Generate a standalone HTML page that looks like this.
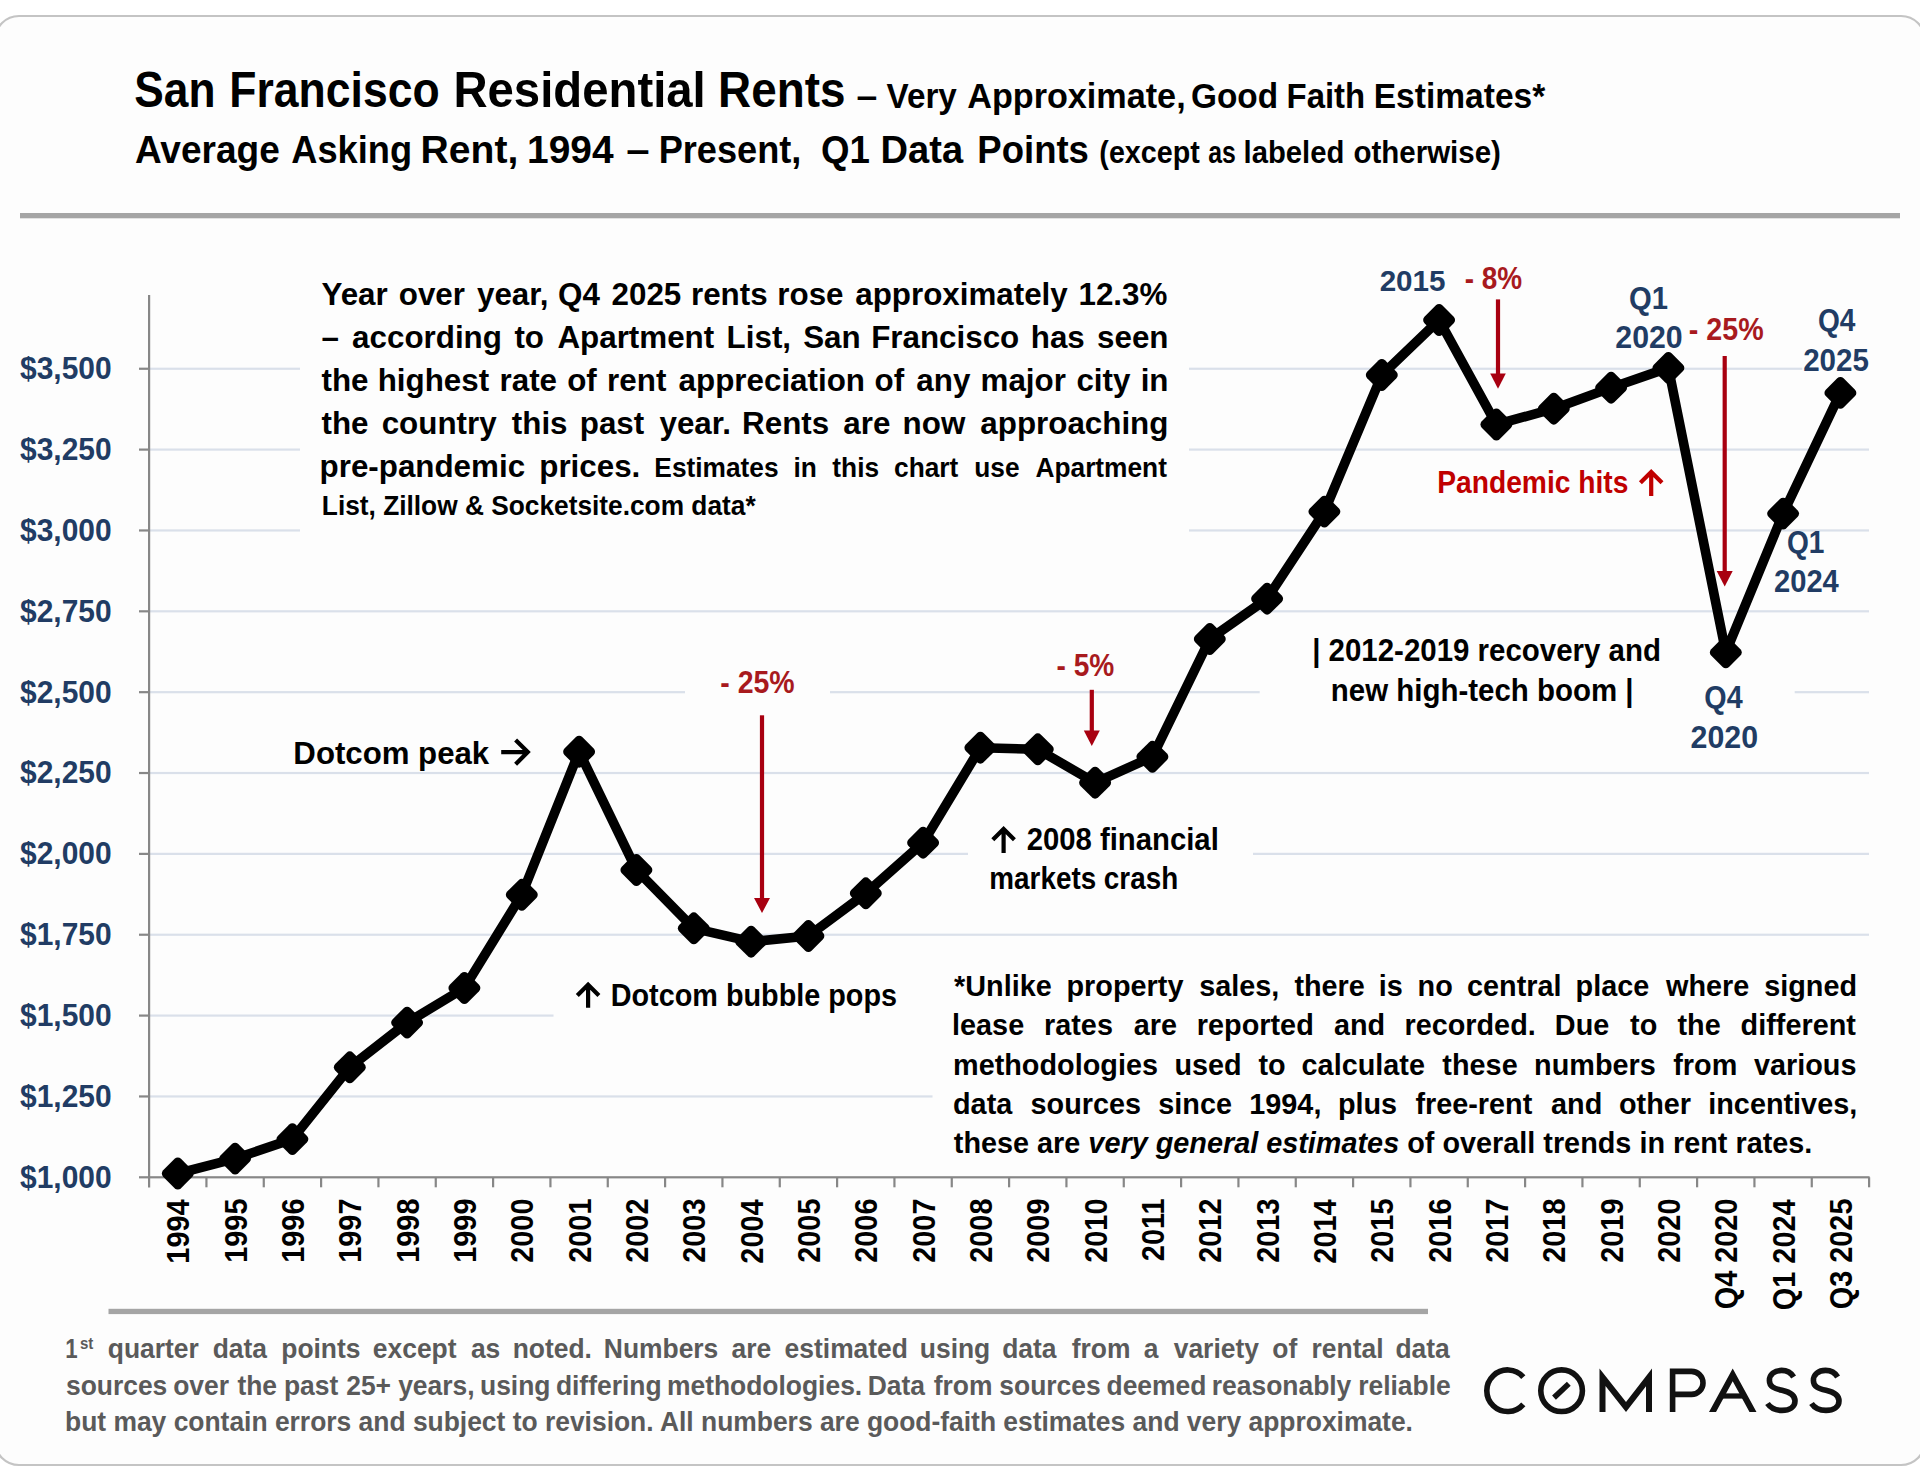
<!DOCTYPE html>
<html><head><meta charset="utf-8"><title>San Francisco Residential Rents</title>
<style>
html,body{margin:0;padding:0;background:#fff;}
body{width:1920px;height:1483px;overflow:hidden;}
svg{display:block;}
text{font-family:"Liberation Sans",sans-serif;}
</style></head>
<body>
<svg width="1920" height="1483" viewBox="0 0 1920 1483">
<rect x="0" y="0" width="1920" height="1483" fill="#ffffff"/>
<rect x="-5" y="16" width="1930" height="1449" rx="24" ry="24" fill="#fdfdfd" stroke="#c4c4c4" stroke-width="2.2"/>
<rect x="20" y="213" width="1880" height="5.3" fill="#a5a5a5"/>
<rect x="108.5" y="1308.8" width="1319.5" height="5.3" fill="#a5a5a5"/>
<rect x="150.0" y="1095.35" width="782.5" height="2.2" fill="#dae0ea"/>
<rect x="150.0" y="1014.49" width="403.5" height="2.2" fill="#dae0ea"/>
<rect x="150.0" y="933.63" width="1719.0" height="2.2" fill="#dae0ea"/>
<rect x="150.0" y="852.78" width="818.0" height="2.2" fill="#dae0ea"/>
<rect x="1253.0" y="852.78" width="616.0" height="2.2" fill="#dae0ea"/>
<rect x="150.0" y="771.92" width="1719.0" height="2.2" fill="#dae0ea"/>
<rect x="150.0" y="691.07" width="535.0" height="2.2" fill="#dae0ea"/>
<rect x="830.0" y="691.07" width="429.7" height="2.2" fill="#dae0ea"/>
<rect x="1794.7" y="691.07" width="74.3" height="2.2" fill="#dae0ea"/>
<rect x="150.0" y="610.21" width="1719.0" height="2.2" fill="#dae0ea"/>
<rect x="150.0" y="529.36" width="150.0" height="2.2" fill="#dae0ea"/>
<rect x="1189.0" y="529.36" width="680.0" height="2.2" fill="#dae0ea"/>
<rect x="150.0" y="448.50" width="150.0" height="2.2" fill="#dae0ea"/>
<rect x="1189.0" y="448.50" width="680.0" height="2.2" fill="#dae0ea"/>
<rect x="150.0" y="367.65" width="150.0" height="2.2" fill="#dae0ea"/>
<rect x="1189.0" y="367.65" width="613.3" height="2.2" fill="#dae0ea"/>
<rect x="148.00" y="295" width="2.2" height="892.5" fill="#878787"/>
<rect x="139" y="1176.20" width="1730.6" height="2.2" fill="#878787"/>
<rect x="139" y="1095.35" width="10" height="2.2" fill="#878787"/>
<rect x="139" y="1014.49" width="10" height="2.2" fill="#878787"/>
<rect x="139" y="933.63" width="10" height="2.2" fill="#878787"/>
<rect x="139" y="852.78" width="10" height="2.2" fill="#878787"/>
<rect x="139" y="771.92" width="10" height="2.2" fill="#878787"/>
<rect x="139" y="691.07" width="10" height="2.2" fill="#878787"/>
<rect x="139" y="610.21" width="10" height="2.2" fill="#878787"/>
<rect x="139" y="529.36" width="10" height="2.2" fill="#878787"/>
<rect x="139" y="448.50" width="10" height="2.2" fill="#878787"/>
<rect x="139" y="367.65" width="10" height="2.2" fill="#878787"/>
<rect x="205.33" y="1177.3" width="2.2" height="10" fill="#878787"/>
<rect x="262.67" y="1177.3" width="2.2" height="10" fill="#878787"/>
<rect x="320.00" y="1177.3" width="2.2" height="10" fill="#878787"/>
<rect x="377.33" y="1177.3" width="2.2" height="10" fill="#878787"/>
<rect x="434.67" y="1177.3" width="2.2" height="10" fill="#878787"/>
<rect x="492.00" y="1177.3" width="2.2" height="10" fill="#878787"/>
<rect x="549.33" y="1177.3" width="2.2" height="10" fill="#878787"/>
<rect x="606.67" y="1177.3" width="2.2" height="10" fill="#878787"/>
<rect x="664.00" y="1177.3" width="2.2" height="10" fill="#878787"/>
<rect x="721.33" y="1177.3" width="2.2" height="10" fill="#878787"/>
<rect x="778.67" y="1177.3" width="2.2" height="10" fill="#878787"/>
<rect x="836.00" y="1177.3" width="2.2" height="10" fill="#878787"/>
<rect x="893.33" y="1177.3" width="2.2" height="10" fill="#878787"/>
<rect x="950.67" y="1177.3" width="2.2" height="10" fill="#878787"/>
<rect x="1008.00" y="1177.3" width="2.2" height="10" fill="#878787"/>
<rect x="1065.33" y="1177.3" width="2.2" height="10" fill="#878787"/>
<rect x="1122.67" y="1177.3" width="2.2" height="10" fill="#878787"/>
<rect x="1180.00" y="1177.3" width="2.2" height="10" fill="#878787"/>
<rect x="1237.33" y="1177.3" width="2.2" height="10" fill="#878787"/>
<rect x="1294.67" y="1177.3" width="2.2" height="10" fill="#878787"/>
<rect x="1352.00" y="1177.3" width="2.2" height="10" fill="#878787"/>
<rect x="1409.33" y="1177.3" width="2.2" height="10" fill="#878787"/>
<rect x="1466.67" y="1177.3" width="2.2" height="10" fill="#878787"/>
<rect x="1524.00" y="1177.3" width="2.2" height="10" fill="#878787"/>
<rect x="1581.33" y="1177.3" width="2.2" height="10" fill="#878787"/>
<rect x="1638.67" y="1177.3" width="2.2" height="10" fill="#878787"/>
<rect x="1696.00" y="1177.3" width="2.2" height="10" fill="#878787"/>
<rect x="1753.33" y="1177.3" width="2.2" height="10" fill="#878787"/>
<rect x="1810.67" y="1177.3" width="2.2" height="10" fill="#878787"/>
<rect x="1868.00" y="1177.3" width="2.2" height="10" fill="#878787"/>
<rect x="759.90" y="715.3" width="4.2" height="183.70000000000005" fill="#a80010"/>
<path d="M754.00,898 L770.00,898 L762.00,913 Z" fill="#a80010"/>
<rect x="1089.70" y="689.8" width="4.2" height="41.80000000000007" fill="#a80010"/>
<path d="M1083.80,730.6 L1099.80,730.6 L1091.80,746 Z" fill="#a80010"/>
<rect x="1495.90" y="299.4" width="4.2" height="75.10000000000002" fill="#a80010"/>
<path d="M1490.20,373.5 L1505.80,373.5 L1498.00,388.75 Z" fill="#a80010"/>
<rect x="1722.60" y="356" width="4.2" height="216" fill="#a80010"/>
<path d="M1716.70,571 L1732.70,571 L1724.70,586.4 Z" fill="#a80010"/>
<path d="M501.2,752.1 L526.3,752.1 M515.5999999999999,739.9 L527.8,752.1 L515.5999999999999,764.3000000000001" fill="none" stroke="#000" stroke-width="4.2" stroke-linejoin="miter" stroke-linecap="butt"/>
<path d="M588.1,1007.8 L588.1,986.3 M577.3000000000001,995.5999999999999 L588.1,984.8 L598.9,995.5999999999999" fill="none" stroke="#000" stroke-width="4.2" stroke-linejoin="miter" stroke-linecap="butt"/>
<path d="M1003.6,853 L1003.6,830.5 M992.8000000000001,839.8 L1003.6,829 L1014.4,839.8" fill="none" stroke="#000" stroke-width="4.2" stroke-linejoin="miter" stroke-linecap="butt"/>
<path d="M1651.2,496 L1651.2,473.5 M1640.4,482.8 L1651.2,472 L1662.0,482.8" fill="none" stroke="#c00000" stroke-width="4.2" stroke-linejoin="miter" stroke-linecap="butt"/>
<path d="M177.8,1173.5 L235.1,1158.6 L292.4,1139.1 L349.8,1067.3 L407.1,1022.6 L464.4,988.0 L521.8,894.8 L579.1,751.7 L636.4,870.0 L693.8,928.3 L751.1,941.7 L808.4,936.0 L865.8,893.3 L923.1,842.7 L980.4,747.7 L1037.8,749.3 L1095.1,782.7 L1152.4,756.8 L1209.8,639.0 L1267.1,598.7 L1324.4,511.6 L1381.8,375.0 L1439.1,320.0 L1496.4,424.5 L1553.8,408.7 L1611.1,387.7 L1668.4,367.9 L1725.8,652.4 L1783.1,513.6 L1840.4,392.9" fill="none" stroke="#000" stroke-width="9.6" stroke-linejoin="round"/>
<rect x="-12.60" y="-12.60" width="25.2" height="25.2" rx="4.5" transform="translate(177.8 1173.5) rotate(45)" fill="#000"/>
<rect x="-12.60" y="-12.60" width="25.2" height="25.2" rx="4.5" transform="translate(235.1 1158.6) rotate(45)" fill="#000"/>
<rect x="-12.60" y="-12.60" width="25.2" height="25.2" rx="4.5" transform="translate(292.4 1139.1) rotate(45)" fill="#000"/>
<rect x="-12.60" y="-12.60" width="25.2" height="25.2" rx="4.5" transform="translate(349.8 1067.3) rotate(45)" fill="#000"/>
<rect x="-12.60" y="-12.60" width="25.2" height="25.2" rx="4.5" transform="translate(407.1 1022.6) rotate(45)" fill="#000"/>
<rect x="-12.60" y="-12.60" width="25.2" height="25.2" rx="4.5" transform="translate(464.4 988.0) rotate(45)" fill="#000"/>
<rect x="-12.60" y="-12.60" width="25.2" height="25.2" rx="4.5" transform="translate(521.8 894.8) rotate(45)" fill="#000"/>
<rect x="-12.60" y="-12.60" width="25.2" height="25.2" rx="4.5" transform="translate(579.1 751.7) rotate(45)" fill="#000"/>
<rect x="-12.60" y="-12.60" width="25.2" height="25.2" rx="4.5" transform="translate(636.4 870.0) rotate(45)" fill="#000"/>
<rect x="-12.60" y="-12.60" width="25.2" height="25.2" rx="4.5" transform="translate(693.8 928.3) rotate(45)" fill="#000"/>
<rect x="-12.60" y="-12.60" width="25.2" height="25.2" rx="4.5" transform="translate(751.1 941.7) rotate(45)" fill="#000"/>
<rect x="-12.60" y="-12.60" width="25.2" height="25.2" rx="4.5" transform="translate(808.4 936.0) rotate(45)" fill="#000"/>
<rect x="-12.60" y="-12.60" width="25.2" height="25.2" rx="4.5" transform="translate(865.8 893.3) rotate(45)" fill="#000"/>
<rect x="-12.60" y="-12.60" width="25.2" height="25.2" rx="4.5" transform="translate(923.1 842.7) rotate(45)" fill="#000"/>
<rect x="-12.60" y="-12.60" width="25.2" height="25.2" rx="4.5" transform="translate(980.4 747.7) rotate(45)" fill="#000"/>
<rect x="-12.60" y="-12.60" width="25.2" height="25.2" rx="4.5" transform="translate(1037.8 749.3) rotate(45)" fill="#000"/>
<rect x="-12.60" y="-12.60" width="25.2" height="25.2" rx="4.5" transform="translate(1095.1 782.7) rotate(45)" fill="#000"/>
<rect x="-12.60" y="-12.60" width="25.2" height="25.2" rx="4.5" transform="translate(1152.4 756.8) rotate(45)" fill="#000"/>
<rect x="-12.60" y="-12.60" width="25.2" height="25.2" rx="4.5" transform="translate(1209.8 639.0) rotate(45)" fill="#000"/>
<rect x="-12.60" y="-12.60" width="25.2" height="25.2" rx="4.5" transform="translate(1267.1 598.7) rotate(45)" fill="#000"/>
<rect x="-12.60" y="-12.60" width="25.2" height="25.2" rx="4.5" transform="translate(1324.4 511.6) rotate(45)" fill="#000"/>
<rect x="-12.60" y="-12.60" width="25.2" height="25.2" rx="4.5" transform="translate(1381.8 375.0) rotate(45)" fill="#000"/>
<rect x="-12.60" y="-12.60" width="25.2" height="25.2" rx="4.5" transform="translate(1439.1 320.0) rotate(45)" fill="#000"/>
<rect x="-12.60" y="-12.60" width="25.2" height="25.2" rx="4.5" transform="translate(1496.4 424.5) rotate(45)" fill="#000"/>
<rect x="-12.60" y="-12.60" width="25.2" height="25.2" rx="4.5" transform="translate(1553.8 408.7) rotate(45)" fill="#000"/>
<rect x="-12.60" y="-12.60" width="25.2" height="25.2" rx="4.5" transform="translate(1611.1 387.7) rotate(45)" fill="#000"/>
<rect x="-12.60" y="-12.60" width="25.2" height="25.2" rx="4.5" transform="translate(1668.4 367.9) rotate(45)" fill="#000"/>
<rect x="-12.60" y="-12.60" width="25.2" height="25.2" rx="4.5" transform="translate(1725.8 652.4) rotate(45)" fill="#000"/>
<rect x="-12.60" y="-12.60" width="25.2" height="25.2" rx="4.5" transform="translate(1783.1 513.6) rotate(45)" fill="#000"/>
<rect x="-12.60" y="-12.60" width="25.2" height="25.2" rx="4.5" transform="translate(1840.4 392.9) rotate(45)" fill="#000"/>
<path d="M1523.30,1377.05 A20.8,20.8 0 1 0 1523.30,1404.35" fill="none" stroke="#111" stroke-width="5.6"/>
<circle cx="1561.6" cy="1390.7" r="20.8" fill="none" stroke="#111" stroke-width="5.6"/>
<path d="M1554,1397.6 L1568.8,1383.8" fill="none" stroke="#111" stroke-width="5.6"/>
<path d="M1599.5,1412 L1599.5,1368.4 L1626,1402 L1652,1368.4 L1652,1412 L1646,1412 L1646,1386.2 L1626,1412 L1605.5,1386 L1605.5,1412 Z" fill="#111"/>
<path d="M1672.6,1412 L1672.6,1371.4 L1691.5,1371.4 A11.5,11.5 0 0 1 1691.5,1394.4 L1672.6,1394.4" fill="none" stroke="#111" stroke-width="5.6"/>
<path d="M1709,1412 L1732.7,1368.4 L1756.5,1412 L1749.5,1412 L1732.7,1381.3 L1716,1412 Z" fill="#111"/>
<rect x="1720" y="1393.4" width="25.4" height="5.2" fill="#111"/>
<path d="M1793.6,1377 C1791,1372.5 1786,1370.4 1781.5,1370.4 C1774.5,1370.4 1769.4,1374.5 1769.4,1380.5 C1769.4,1386.5 1774,1388.5 1782,1390.3 C1790.5,1392.2 1795,1395 1795,1401 C1795,1407 1789.5,1410.4 1782,1410.4 C1775.5,1410.4 1770.5,1408 1767.5,1403.5" fill="none" stroke="#111" stroke-width="5.6"/>
<path d="M1837.6,1377 C1835,1372.5 1830,1370.4 1825.5,1370.4 C1818.5,1370.4 1813.4,1374.5 1813.4,1380.5 C1813.4,1386.5 1818,1388.5 1826,1390.3 C1834.5,1392.2 1839,1395 1839,1401 C1839,1407 1833.5,1410.4 1826,1410.4 C1819.5,1410.4 1814.5,1408 1811.5,1403.5" fill="none" stroke="#111" stroke-width="5.6"/>
<text transform="matrix(0.8859 0 0 1 134.31 107.30)" fill="#000" xml:space="preserve"><tspan font-size="50.00" font-weight="bold" font-style="normal">San</tspan></text>
<text transform="matrix(0.8905 0 0 1 229.33 107.30)" fill="#000" xml:space="preserve"><tspan font-size="50.00" font-weight="bold" font-style="normal">Francisco</tspan></text>
<text transform="matrix(0.9463 0 0 1 453.41 107.30)" fill="#000" xml:space="preserve"><tspan font-size="50.00" font-weight="bold" font-style="normal">Residential</tspan></text>
<text transform="matrix(0.9168 0 0 1 718.05 107.30)" fill="#000" xml:space="preserve"><tspan font-size="50.00" font-weight="bold" font-style="normal">Rents</tspan></text>
<text transform="matrix(1.0417 0 0 1 856.46 107.50)" fill="#000" xml:space="preserve"><tspan font-size="35.87" font-weight="bold" font-style="normal">–</tspan></text>
<text transform="matrix(0.9270 0 0 1 886.60 107.50)" fill="#000" xml:space="preserve"><tspan font-size="35.87" font-weight="bold" font-style="normal">Very</tspan></text>
<text transform="matrix(0.9532 0 0 1 967.20 107.50)" fill="#000" xml:space="preserve"><tspan font-size="35.87" font-weight="bold" font-style="normal">Approximate,</tspan></text>
<text transform="matrix(0.9300 0 0 1 1190.97 107.50)" fill="#000" xml:space="preserve"><tspan font-size="35.87" font-weight="bold" font-style="normal">Good</tspan></text>
<text transform="matrix(0.9174 0 0 1 1286.57 107.50)" fill="#000" xml:space="preserve"><tspan font-size="35.87" font-weight="bold" font-style="normal">Faith</tspan></text>
<text transform="matrix(0.9354 0 0 1 1373.73 107.50)" fill="#000" xml:space="preserve"><tspan font-size="35.87" font-weight="bold" font-style="normal">Estimates*</tspan></text>
<text transform="matrix(0.9351 0 0 1 135.00 162.70)" fill="#000" xml:space="preserve"><tspan font-size="39.60" font-weight="bold" font-style="normal">Average</tspan></text>
<text transform="matrix(0.9150 0 0 1 291.25 162.70)" fill="#000" xml:space="preserve"><tspan font-size="39.60" font-weight="bold" font-style="normal">Asking</tspan></text>
<text transform="matrix(0.9874 0 0 1 420.53 162.70)" fill="#000" xml:space="preserve"><tspan font-size="39.60" font-weight="bold" font-style="normal">Rent,</tspan></text>
<text transform="matrix(0.9833 0 0 1 527.03 162.70)" fill="#000" xml:space="preserve"><tspan font-size="39.60" font-weight="bold" font-style="normal">1994</tspan></text>
<text transform="matrix(1.0600 0 0 1 626.14 162.70)" fill="#000" xml:space="preserve"><tspan font-size="39.60" font-weight="bold" font-style="normal">–</tspan></text>
<text transform="matrix(0.9133 0 0 1 658.67 162.70)" fill="#000" xml:space="preserve"><tspan font-size="39.60" font-weight="bold" font-style="normal">Present,</tspan></text>
<text transform="matrix(0.9255 0 0 1 821.07 162.70)" fill="#000" xml:space="preserve"><tspan font-size="39.60" font-weight="bold" font-style="normal">Q1</tspan></text>
<text transform="matrix(0.9614 0 0 1 880.58 162.70)" fill="#000" xml:space="preserve"><tspan font-size="39.60" font-weight="bold" font-style="normal">Data</tspan></text>
<text transform="matrix(0.9226 0 0 1 977.35 162.70)" fill="#000" xml:space="preserve"><tspan font-size="39.60" font-weight="bold" font-style="normal">Points</tspan></text>
<text transform="matrix(0.9347 0 0 1 1099.37 162.70)" fill="#000" xml:space="preserve"><tspan font-size="30.70" font-weight="bold" font-style="normal">(except</tspan></text>
<text transform="matrix(0.8075 0 0 1 1208.20 162.70)" fill="#000" xml:space="preserve"><tspan font-size="30.70" font-weight="bold" font-style="normal">as</tspan></text>
<text transform="matrix(0.9530 0 0 1 1243.59 162.70)" fill="#000" xml:space="preserve"><tspan font-size="30.70" font-weight="bold" font-style="normal">labeled</tspan></text>
<text transform="matrix(0.9607 0 0 1 1353.44 162.70)" fill="#000" xml:space="preserve"><tspan font-size="30.70" font-weight="bold" font-style="normal">otherwise)</tspan></text>
<text transform="matrix(0.9801 0 0 1 20.00 379.15)" fill="#213c64" xml:space="preserve"><tspan font-size="30.56" font-weight="bold" font-style="normal">$3,500</tspan></text>
<text transform="matrix(0.9801 0 0 1 20.00 1187.70)" fill="#213c64" font-size="30.56" font-weight="bold">$1,000</text>
<text transform="matrix(0.9801 0 0 1 20.00 1106.85)" fill="#213c64" font-size="30.56" font-weight="bold">$1,250</text>
<text transform="matrix(0.9801 0 0 1 20.00 1025.99)" fill="#213c64" font-size="30.56" font-weight="bold">$1,500</text>
<text transform="matrix(0.9801 0 0 1 20.00 945.13)" fill="#213c64" font-size="30.56" font-weight="bold">$1,750</text>
<text transform="matrix(0.9801 0 0 1 20.00 864.28)" fill="#213c64" font-size="30.56" font-weight="bold">$2,000</text>
<text transform="matrix(0.9801 0 0 1 20.00 783.42)" fill="#213c64" font-size="30.56" font-weight="bold">$2,250</text>
<text transform="matrix(0.9801 0 0 1 20.00 702.57)" fill="#213c64" font-size="30.56" font-weight="bold">$2,500</text>
<text transform="matrix(0.9801 0 0 1 20.00 621.72)" fill="#213c64" font-size="30.56" font-weight="bold">$2,750</text>
<text transform="matrix(0.9801 0 0 1 20.00 540.86)" fill="#213c64" font-size="30.56" font-weight="bold">$3,000</text>
<text transform="matrix(0.9801 0 0 1 20.00 460.00)" fill="#213c64" font-size="30.56" font-weight="bold">$3,250</text>
<text transform="translate(189.37 1263.67) rotate(-90) scale(0.9186 1)" font-size="31.42" font-weight="bold" fill="#000">1994</text>
<text transform="translate(246.70 1262.75) rotate(-90) scale(0.9186 1)" font-size="31.42" font-weight="bold" fill="#000">1995</text>
<text transform="translate(304.03 1262.75) rotate(-90) scale(0.9186 1)" font-size="31.42" font-weight="bold" fill="#000">1996</text>
<text transform="translate(361.37 1262.75) rotate(-90) scale(0.9186 1)" font-size="31.42" font-weight="bold" fill="#000">1997</text>
<text transform="translate(418.70 1262.75) rotate(-90) scale(0.9186 1)" font-size="31.42" font-weight="bold" fill="#000">1998</text>
<text transform="translate(476.03 1262.75) rotate(-90) scale(0.9186 1)" font-size="31.42" font-weight="bold" fill="#000">1999</text>
<text transform="translate(533.37 1262.75) rotate(-90) scale(0.9186 1)" font-size="31.42" font-weight="bold" fill="#000">2000</text>
<text transform="translate(590.70 1262.75) rotate(-90) scale(0.9186 1)" font-size="31.42" font-weight="bold" fill="#000">2001</text>
<text transform="translate(648.03 1262.75) rotate(-90) scale(0.9186 1)" font-size="31.42" font-weight="bold" fill="#000">2002</text>
<text transform="translate(705.37 1262.75) rotate(-90) scale(0.9186 1)" font-size="31.42" font-weight="bold" fill="#000">2003</text>
<text transform="translate(762.70 1263.67) rotate(-90) scale(0.9186 1)" font-size="31.42" font-weight="bold" fill="#000">2004</text>
<text transform="translate(820.03 1262.75) rotate(-90) scale(0.9186 1)" font-size="31.42" font-weight="bold" fill="#000">2005</text>
<text transform="translate(877.37 1262.75) rotate(-90) scale(0.9186 1)" font-size="31.42" font-weight="bold" fill="#000">2006</text>
<text transform="translate(934.70 1262.75) rotate(-90) scale(0.9186 1)" font-size="31.42" font-weight="bold" fill="#000">2007</text>
<text transform="translate(992.03 1262.75) rotate(-90) scale(0.9186 1)" font-size="31.42" font-weight="bold" fill="#000">2008</text>
<text transform="translate(1049.37 1262.75) rotate(-90) scale(0.9186 1)" font-size="31.42" font-weight="bold" fill="#000">2009</text>
<text transform="translate(1106.70 1262.75) rotate(-90) scale(0.9186 1)" font-size="31.42" font-weight="bold" fill="#000">2010</text>
<text transform="translate(1164.03 1261.16) rotate(-90) scale(0.9186 1)" font-size="31.42" font-weight="bold" fill="#000">2011</text>
<text transform="translate(1221.37 1262.75) rotate(-90) scale(0.9186 1)" font-size="31.42" font-weight="bold" fill="#000">2012</text>
<text transform="translate(1278.70 1262.75) rotate(-90) scale(0.9186 1)" font-size="31.42" font-weight="bold" fill="#000">2013</text>
<text transform="translate(1336.03 1263.67) rotate(-90) scale(0.9186 1)" font-size="31.42" font-weight="bold" fill="#000">2014</text>
<text transform="translate(1393.37 1262.75) rotate(-90) scale(0.9186 1)" font-size="31.42" font-weight="bold" fill="#000">2015</text>
<text transform="translate(1450.70 1262.75) rotate(-90) scale(0.9186 1)" font-size="31.42" font-weight="bold" fill="#000">2016</text>
<text transform="translate(1508.03 1262.75) rotate(-90) scale(0.9186 1)" font-size="31.42" font-weight="bold" fill="#000">2017</text>
<text transform="translate(1565.37 1262.75) rotate(-90) scale(0.9186 1)" font-size="31.42" font-weight="bold" fill="#000">2018</text>
<text transform="translate(1622.70 1262.75) rotate(-90) scale(0.9186 1)" font-size="31.42" font-weight="bold" fill="#000">2019</text>
<text transform="translate(1680.03 1262.75) rotate(-90) scale(0.9186 1)" font-size="31.42" font-weight="bold" fill="#000">2020</text>
<text transform="translate(1737.37 1309.25) rotate(-90) scale(0.9186 1)" font-size="31.42" font-weight="bold" fill="#000">Q4 2020</text>
<text transform="translate(1794.70 1310.17) rotate(-90) scale(0.9186 1)" font-size="31.42" font-weight="bold" fill="#000">Q1 2024</text>
<text transform="translate(1852.03 1309.25) rotate(-90) scale(0.9186 1)" font-size="31.42" font-weight="bold" fill="#000">Q3 2025</text>
<text transform="matrix(0.9741 0 0 1 1379.63 291.30)" fill="#213c64" xml:space="preserve"><tspan font-size="30.42" font-weight="bold" font-style="normal">2015</tspan></text>
<text transform="matrix(0.9480 0 0 1 1628.95 308.90)" fill="#213c64" xml:space="preserve"><tspan font-size="30.85" font-weight="bold" font-style="normal">Q1</tspan></text>
<text transform="matrix(0.9914 0 0 1 1615.31 348.00)" fill="#213c64" xml:space="preserve"><tspan font-size="30.56" font-weight="bold" font-style="normal">2020</tspan></text>
<text transform="matrix(0.9105 0 0 1 1817.89 331.20)" fill="#213c64" xml:space="preserve"><tspan font-size="30.85" font-weight="bold" font-style="normal">Q4</tspan></text>
<text transform="matrix(0.9580 0 0 1 1803.14 370.80)" fill="#213c64" xml:space="preserve"><tspan font-size="30.85" font-weight="bold" font-style="normal">2025</tspan></text>
<text transform="matrix(0.9105 0 0 1 1786.99 553.10)" fill="#213c64" xml:space="preserve"><tspan font-size="30.85" font-weight="bold" font-style="normal">Q1</tspan></text>
<text transform="matrix(0.9542 0 0 1 1773.95 591.90)" fill="#213c64" xml:space="preserve"><tspan font-size="30.56" font-weight="bold" font-style="normal">2024</tspan></text>
<text transform="matrix(0.9305 0 0 1 1704.37 708.40)" fill="#213c64" xml:space="preserve"><tspan font-size="30.85" font-weight="bold" font-style="normal">Q4</tspan></text>
<text transform="matrix(0.9929 0 0 1 1690.61 748.10)" fill="#213c64" xml:space="preserve"><tspan font-size="30.56" font-weight="bold" font-style="normal">2020</tspan></text>
<text transform="matrix(0.9108 0 0 1 1464.69 289.45)" fill="#a81a1e" xml:space="preserve"><tspan font-size="30.70" font-weight="bold" font-style="normal">- 8%</tspan></text>
<text transform="matrix(0.9331 0 0 1 1688.77 340.00)" fill="#a81a1e" xml:space="preserve"><tspan font-size="30.70" font-weight="bold" font-style="normal">- 25%</tspan></text>
<text transform="matrix(0.9274 0 0 1 720.32 693.20)" fill="#a81a1e" xml:space="preserve"><tspan font-size="30.70" font-weight="bold" font-style="normal">- 25%</tspan></text>
<text transform="matrix(0.9157 0 0 1 1056.48 675.50)" fill="#a81a1e" xml:space="preserve"><tspan font-size="30.70" font-weight="bold" font-style="normal">- 5%</tspan></text>
<text transform="matrix(0.8897 0 0 1 1437.22 493.00)" fill="#c00000" xml:space="preserve"><tspan font-size="31.71" font-weight="bold" font-style="normal">Pandemic hits</tspan></text>
<text transform="matrix(0.9707 0 0 1 293.36 764.30)" fill="#000" xml:space="preserve"><tspan font-size="32.14" font-weight="bold" font-style="normal">Dotcom peak</tspan></text>
<text transform="matrix(0.9131 0 0 1 610.67 1005.70)" fill="#000" xml:space="preserve"><tspan font-size="31.56" font-weight="bold" font-style="normal">Dotcom bubble pops</tspan></text>
<text transform="matrix(0.9287 0 0 1 1026.67 850.10)" fill="#000" xml:space="preserve"><tspan font-size="31.56" font-weight="bold" font-style="normal">2008 financial</tspan></text>
<text transform="matrix(0.8828 0 0 1 989.33 889.45)" fill="#000" xml:space="preserve"><tspan font-size="31.56" font-weight="bold" font-style="normal">markets crash</tspan></text>
<text transform="matrix(0.9337 0 0 1 1312.13 661.30)" fill="#000" xml:space="preserve"><tspan font-size="31.56" font-weight="bold" font-style="normal">| 2012-2019 recovery and</tspan></text>
<text transform="matrix(0.9331 0 0 1 1330.83 700.90)" fill="#000" xml:space="preserve"><tspan font-size="31.56" font-weight="bold" font-style="normal">new high-tech boom |</tspan></text>
<text transform="matrix(0.9805 0 0 1 321.82 514.90)" fill="#000" xml:space="preserve"><tspan font-size="26.83" font-weight="bold" font-style="normal">List, Zillow &amp; Socketsite.com data*</tspan></text>
<text transform="matrix(0.9805 0 0 1 321.50 305.10)" fill="#000" font-size="31.99" font-weight="bold" font-style="normal">Year</text>
<text transform="matrix(0.9805 0 0 1 398.76 305.10)" fill="#000" font-size="31.99" font-weight="bold" font-style="normal">over</text>
<text transform="matrix(0.9805 0 0 1 476.98 305.10)" fill="#000" font-size="31.99" font-weight="bold" font-style="normal">year,</text>
<text transform="matrix(0.9805 0 0 1 558.07 305.10)" fill="#000" font-size="31.99" font-weight="bold" font-style="normal">Q4</text>
<text transform="matrix(0.9805 0 0 1 611.54 305.10)" fill="#000" font-size="31.99" font-weight="bold" font-style="normal">2025</text>
<text transform="matrix(0.9805 0 0 1 690.98 305.10)" fill="#000" font-size="31.99" font-weight="bold" font-style="normal">rents</text>
<text transform="matrix(0.9805 0 0 1 777.34 305.10)" fill="#000" font-size="31.99" font-weight="bold" font-style="normal">rose</text>
<text transform="matrix(0.9805 0 0 1 855.22 305.10)" fill="#000" font-size="31.99" font-weight="bold" font-style="normal">approximately</text>
<text transform="matrix(0.9805 0 0 1 1078.51 305.10)" fill="#000" font-size="31.99" font-weight="bold" font-style="normal">12.3%</text>
<text transform="matrix(0.9805 0 0 1 321.50 348.00)" fill="#000" font-size="31.99" font-weight="bold" font-style="normal">–</text>
<text transform="matrix(0.9805 0 0 1 352.12 348.00)" fill="#000" font-size="31.99" font-weight="bold" font-style="normal">according</text>
<text transform="matrix(0.9805 0 0 1 514.43 348.00)" fill="#000" font-size="31.99" font-weight="bold" font-style="normal">to</text>
<text transform="matrix(0.9805 0 0 1 557.46 348.00)" fill="#000" font-size="31.99" font-weight="bold" font-style="normal">Apartment</text>
<text transform="matrix(0.9805 0 0 1 726.61 348.00)" fill="#000" font-size="31.99" font-weight="bold" font-style="normal">List,</text>
<text transform="matrix(0.9805 0 0 1 803.18 348.00)" fill="#000" font-size="31.99" font-weight="bold" font-style="normal">San</text>
<text transform="matrix(0.9805 0 0 1 871.18 348.00)" fill="#000" font-size="31.99" font-weight="bold" font-style="normal">Francisco</text>
<text transform="matrix(0.9805 0 0 1 1030.79 348.00)" fill="#000" font-size="31.99" font-weight="bold" font-style="normal">has</text>
<text transform="matrix(0.9805 0 0 1 1097.03 348.00)" fill="#000" font-size="31.99" font-weight="bold" font-style="normal">seen</text>
<text transform="matrix(0.9805 0 0 1 321.50 391.30)" fill="#000" font-size="31.99" font-weight="bold" font-style="normal">the</text>
<text transform="matrix(0.9805 0 0 1 377.72 391.30)" fill="#000" font-size="31.99" font-weight="bold" font-style="normal">highest</text>
<text transform="matrix(0.9805 0 0 1 499.52 391.30)" fill="#000" font-size="31.99" font-weight="bold" font-style="normal">rate</text>
<text transform="matrix(0.9805 0 0 1 567.21 391.30)" fill="#000" font-size="31.99" font-weight="bold" font-style="normal">of</text>
<text transform="matrix(0.9805 0 0 1 607.11 391.30)" fill="#000" font-size="31.99" font-weight="bold" font-style="normal">rent</text>
<text transform="matrix(0.9805 0 0 1 678.61 391.30)" fill="#000" font-size="31.99" font-weight="bold" font-style="normal">appreciation</text>
<text transform="matrix(0.9805 0 0 1 874.49 391.30)" fill="#000" font-size="31.99" font-weight="bold" font-style="normal">of</text>
<text transform="matrix(0.9805 0 0 1 916.35 391.30)" fill="#000" font-size="31.99" font-weight="bold" font-style="normal">any</text>
<text transform="matrix(0.9805 0 0 1 980.55 391.30)" fill="#000" font-size="31.99" font-weight="bold" font-style="normal">major</text>
<text transform="matrix(0.9805 0 0 1 1076.44 391.30)" fill="#000" font-size="31.99" font-weight="bold" font-style="normal">city</text>
<text transform="matrix(0.9805 0 0 1 1140.64 391.30)" fill="#000" font-size="31.99" font-weight="bold" font-style="normal">in</text>
<text transform="matrix(0.9805 0 0 1 321.50 434.30)" fill="#000" font-size="31.99" font-weight="bold" font-style="normal">the</text>
<text transform="matrix(0.9805 0 0 1 381.69 434.30)" fill="#000" font-size="31.99" font-weight="bold" font-style="normal">country</text>
<text transform="matrix(0.9805 0 0 1 511.81 434.30)" fill="#000" font-size="31.99" font-weight="bold" font-style="normal">this</text>
<text transform="matrix(0.9805 0 0 1 579.74 434.30)" fill="#000" font-size="31.99" font-weight="bold" font-style="normal">past</text>
<text transform="matrix(0.9805 0 0 1 659.47 434.30)" fill="#000" font-size="31.99" font-weight="bold" font-style="normal">year.</text>
<text transform="matrix(0.9805 0 0 1 742.07 434.30)" fill="#000" font-size="31.99" font-weight="bold" font-style="normal">Rents</text>
<text transform="matrix(0.9805 0 0 1 843.34 434.30)" fill="#000" font-size="31.99" font-weight="bold" font-style="normal">are</text>
<text transform="matrix(0.9805 0 0 1 902.60 434.30)" fill="#000" font-size="31.99" font-weight="bold" font-style="normal">now</text>
<text transform="matrix(0.9805 0 0 1 980.33 434.30)" fill="#000" font-size="31.99" font-weight="bold" font-style="normal">approaching</text>
<text transform="matrix(0.9805 0 0 1 319.54 477.00)" fill="#000" font-size="31.99" font-weight="bold" font-style="normal">pre-pandemic</text>
<text transform="matrix(0.9805 0 0 1 539.26 477.00)" fill="#000" font-size="31.99" font-weight="bold" font-style="normal">prices.</text>
<text transform="matrix(0.9805 0 0 1 654.36 477.00)" fill="#000" font-size="26.83" font-weight="bold" font-style="normal">Estimates</text>
<text transform="matrix(0.9805 0 0 1 793.52 477.00)" fill="#000" font-size="26.83" font-weight="bold" font-style="normal">in</text>
<text transform="matrix(0.9805 0 0 1 832.36 477.00)" fill="#000" font-size="26.83" font-weight="bold" font-style="normal">this</text>
<text transform="matrix(0.9805 0 0 1 894.04 477.00)" fill="#000" font-size="26.83" font-weight="bold" font-style="normal">chart</text>
<text transform="matrix(0.9805 0 0 1 974.24 477.00)" fill="#000" font-size="26.83" font-weight="bold" font-style="normal">use</text>
<text transform="matrix(0.9805 0 0 1 1035.47 477.00)" fill="#000" font-size="26.83" font-weight="bold" font-style="normal">Apartment</text>
<text transform="matrix(0.9752 0 0 1 953.80 1153.20)" fill="#000" xml:space="preserve"><tspan font-size="29.56" font-weight="bold" font-style="normal">these are </tspan><tspan font-size="29.56" font-weight="bold" font-style="italic">very general estimates</tspan><tspan font-size="29.56" font-weight="bold" font-style="normal"> of overall trends in rent rates.</tspan></text>
<text transform="matrix(0.9752 0 0 1 954.00 995.70)" fill="#000" font-size="29.56" font-weight="bold" font-style="normal">*Unlike</text>
<text transform="matrix(0.9752 0 0 1 1066.52 995.70)" fill="#000" font-size="29.56" font-weight="bold" font-style="normal">property</text>
<text transform="matrix(0.9752 0 0 1 1199.21 995.70)" fill="#000" font-size="29.56" font-weight="bold" font-style="normal">sales,</text>
<text transform="matrix(0.9752 0 0 1 1294.38 995.70)" fill="#000" font-size="29.56" font-weight="bold" font-style="normal">there</text>
<text transform="matrix(0.9752 0 0 1 1378.70 995.70)" fill="#000" font-size="29.56" font-weight="bold" font-style="normal">is</text>
<text transform="matrix(0.9752 0 0 1 1417.57 995.70)" fill="#000" font-size="29.56" font-weight="bold" font-style="normal">no</text>
<text transform="matrix(0.9752 0 0 1 1467.01 995.70)" fill="#000" font-size="29.56" font-weight="bold" font-style="normal">central</text>
<text transform="matrix(0.9752 0 0 1 1575.58 995.70)" fill="#000" font-size="29.56" font-weight="bold" font-style="normal">place</text>
<text transform="matrix(0.9752 0 0 1 1666.05 995.70)" fill="#000" font-size="29.56" font-weight="bold" font-style="normal">where</text>
<text transform="matrix(0.9752 0 0 1 1764.17 995.70)" fill="#000" font-size="29.56" font-weight="bold" font-style="normal">signed</text>
<text transform="matrix(0.9752 0 0 1 952.05 1035.30)" fill="#000" font-size="29.56" font-weight="bold" font-style="normal">lease</text>
<text transform="matrix(0.9752 0 0 1 1044.01 1035.30)" fill="#000" font-size="29.56" font-weight="bold" font-style="normal">rates</text>
<text transform="matrix(0.9752 0 0 1 1133.72 1035.30)" fill="#000" font-size="29.56" font-weight="bold" font-style="normal">are</text>
<text transform="matrix(0.9752 0 0 1 1196.84 1035.30)" fill="#000" font-size="29.56" font-weight="bold" font-style="normal">reported</text>
<text transform="matrix(0.9752 0 0 1 1333.94 1035.30)" fill="#000" font-size="29.56" font-weight="bold" font-style="normal">and</text>
<text transform="matrix(0.9752 0 0 1 1404.42 1035.30)" fill="#000" font-size="29.56" font-weight="bold" font-style="normal">recorded.</text>
<text transform="matrix(0.9752 0 0 1 1554.83 1035.30)" fill="#000" font-size="29.56" font-weight="bold" font-style="normal">Due</text>
<text transform="matrix(0.9752 0 0 1 1630.09 1035.30)" fill="#000" font-size="29.56" font-weight="bold" font-style="normal">to</text>
<text transform="matrix(0.9752 0 0 1 1677.51 1035.30)" fill="#000" font-size="29.56" font-weight="bold" font-style="normal">the</text>
<text transform="matrix(0.9752 0 0 1 1740.59 1035.30)" fill="#000" font-size="29.56" font-weight="bold" font-style="normal">different</text>
<text transform="matrix(0.9752 0 0 1 953.02 1074.60)" fill="#000" font-size="29.56" font-weight="bold" font-style="normal">methodologies</text>
<text transform="matrix(0.9752 0 0 1 1174.41 1074.60)" fill="#000" font-size="29.56" font-weight="bold" font-style="normal">used</text>
<text transform="matrix(0.9752 0 0 1 1258.51 1074.60)" fill="#000" font-size="29.56" font-weight="bold" font-style="normal">to</text>
<text transform="matrix(0.9752 0 0 1 1301.59 1074.60)" fill="#000" font-size="29.56" font-weight="bold" font-style="normal">calculate</text>
<text transform="matrix(0.9752 0 0 1 1442.37 1074.60)" fill="#000" font-size="29.56" font-weight="bold" font-style="normal">these</text>
<text transform="matrix(0.9752 0 0 1 1534.12 1074.60)" fill="#000" font-size="29.56" font-weight="bold" font-style="normal">numbers</text>
<text transform="matrix(0.9752 0 0 1 1673.26 1074.60)" fill="#000" font-size="29.56" font-weight="bold" font-style="normal">from</text>
<text transform="matrix(0.9752 0 0 1 1753.93 1074.60)" fill="#000" font-size="29.56" font-weight="bold" font-style="normal">various</text>
<text transform="matrix(0.9752 0 0 1 953.02 1113.90)" fill="#000" font-size="29.56" font-weight="bold" font-style="normal">data</text>
<text transform="matrix(0.9752 0 0 1 1030.52 1113.90)" fill="#000" font-size="29.56" font-weight="bold" font-style="normal">sources</text>
<text transform="matrix(0.9752 0 0 1 1158.31 1113.90)" fill="#000" font-size="29.56" font-weight="bold" font-style="normal">since</text>
<text transform="matrix(0.9752 0 0 1 1249.27 1113.90)" fill="#000" font-size="29.56" font-weight="bold" font-style="normal">1994,</text>
<text transform="matrix(0.9752 0 0 1 1337.89 1113.90)" fill="#000" font-size="29.56" font-weight="bold" font-style="normal">plus</text>
<text transform="matrix(0.9752 0 0 1 1415.38 1113.90)" fill="#000" font-size="29.56" font-weight="bold" font-style="normal">free-rent</text>
<text transform="matrix(0.9752 0 0 1 1551.09 1113.90)" fill="#000" font-size="29.56" font-weight="bold" font-style="normal">and</text>
<text transform="matrix(0.9752 0 0 1 1619.00 1113.90)" fill="#000" font-size="29.56" font-weight="bold" font-style="normal">other</text>
<text transform="matrix(0.9752 0 0 1 1708.24 1113.90)" fill="#000" font-size="29.56" font-weight="bold" font-style="normal">incentives,</text>
<text transform="matrix(0.9742 0 0 1 65.03 1430.70)" fill="#5a5a5a" xml:space="preserve"><tspan font-size="27.12" font-weight="bold" font-style="normal">but may contain errors and subject to revision. All numbers are good-faith estimates and very approximate.</tspan></text>
<text transform="matrix(0.8214 0 0 1 65.18 1358.30)" fill="#5a5a5a" xml:space="preserve"><tspan font-size="27.12" font-weight="bold" font-style="normal">1</tspan></text>
<text transform="matrix(0.8963 0 0 1 80.00 1349.20)" fill="#5a5a5a" xml:space="preserve"><tspan font-size="16.81" font-weight="bold" font-style="normal">st</tspan></text>
<text transform="matrix(0.9742 0 0 1 107.78 1358.30)" fill="#5a5a5a" font-size="27.12" font-weight="bold" font-style="normal">quarter</text>
<text transform="matrix(0.9742 0 0 1 212.63 1358.30)" fill="#5a5a5a" font-size="27.12" font-weight="bold" font-style="normal">data</text>
<text transform="matrix(0.9742 0 0 1 281.25 1358.30)" fill="#5a5a5a" font-size="27.12" font-weight="bold" font-style="normal">points</text>
<text transform="matrix(0.9742 0 0 1 372.85 1358.30)" fill="#5a5a5a" font-size="27.12" font-weight="bold" font-style="normal">except</text>
<text transform="matrix(0.9742 0 0 1 470.90 1358.30)" fill="#5a5a5a" font-size="27.12" font-weight="bold" font-style="normal">as</text>
<text transform="matrix(0.9742 0 0 1 512.65 1358.30)" fill="#5a5a5a" font-size="27.12" font-weight="bold" font-style="normal">noted.</text>
<text transform="matrix(0.9742 0 0 1 603.80 1358.30)" fill="#5a5a5a" font-size="27.12" font-weight="bold" font-style="normal">Numbers</text>
<text transform="matrix(0.9742 0 0 1 731.62 1358.30)" fill="#5a5a5a" font-size="27.12" font-weight="bold" font-style="normal">are</text>
<text transform="matrix(0.9742 0 0 1 784.62 1358.30)" fill="#5a5a5a" font-size="27.12" font-weight="bold" font-style="normal">estimated</text>
<text transform="matrix(0.9742 0 0 1 919.82 1358.30)" fill="#5a5a5a" font-size="27.12" font-weight="bold" font-style="normal">using</text>
<text transform="matrix(0.9742 0 0 1 1002.14 1358.30)" fill="#5a5a5a" font-size="27.12" font-weight="bold" font-style="normal">data</text>
<text transform="matrix(0.9742 0 0 1 1071.74 1358.30)" fill="#5a5a5a" font-size="27.12" font-weight="bold" font-style="normal">from</text>
<text transform="matrix(0.9742 0 0 1 1143.75 1358.30)" fill="#5a5a5a" font-size="27.12" font-weight="bold" font-style="normal">a</text>
<text transform="matrix(0.9742 0 0 1 1173.74 1358.30)" fill="#5a5a5a" font-size="27.12" font-weight="bold" font-style="normal">variety</text>
<text transform="matrix(0.9742 0 0 1 1272.25 1358.30)" fill="#5a5a5a" font-size="27.12" font-weight="bold" font-style="normal">of</text>
<text transform="matrix(0.9742 0 0 1 1311.55 1358.30)" fill="#5a5a5a" font-size="27.12" font-weight="bold" font-style="normal">rental</text>
<text transform="matrix(0.9742 0 0 1 1395.40 1358.30)" fill="#5a5a5a" font-size="27.12" font-weight="bold" font-style="normal">data</text>
<text transform="matrix(0.9742 0 0 1 66.00 1394.50)" fill="#5a5a5a" font-size="27.12" font-weight="bold" font-style="normal">sources</text>
<text transform="matrix(0.9742 0 0 1 173.23 1394.50)" fill="#5a5a5a" font-size="27.12" font-weight="bold" font-style="normal">over</text>
<text transform="matrix(0.9742 0 0 1 237.42 1394.50)" fill="#5a5a5a" font-size="27.12" font-weight="bold" font-style="normal">the</text>
<text transform="matrix(0.9742 0 0 1 283.95 1394.50)" fill="#5a5a5a" font-size="27.12" font-weight="bold" font-style="normal">past</text>
<text transform="matrix(0.9742 0 0 1 346.19 1394.50)" fill="#5a5a5a" font-size="27.12" font-weight="bold" font-style="normal">25+</text>
<text transform="matrix(0.9742 0 0 1 398.14 1394.50)" fill="#5a5a5a" font-size="27.12" font-weight="bold" font-style="normal">years,</text>
<text transform="matrix(0.9742 0 0 1 480.01 1394.50)" fill="#5a5a5a" font-size="27.12" font-weight="bold" font-style="normal">using</text>
<text transform="matrix(0.9742 0 0 1 555.90 1394.50)" fill="#5a5a5a" font-size="27.12" font-weight="bold" font-style="normal">differing</text>
<text transform="matrix(0.9742 0 0 1 666.99 1394.50)" fill="#5a5a5a" font-size="27.12" font-weight="bold" font-style="normal">methodologies.</text>
<text transform="matrix(0.9742 0 0 1 867.63 1394.50)" fill="#5a5a5a" font-size="27.12" font-weight="bold" font-style="normal">Data</text>
<text transform="matrix(0.9742 0 0 1 933.74 1394.50)" fill="#5a5a5a" font-size="27.12" font-weight="bold" font-style="normal">from</text>
<text transform="matrix(0.9742 0 0 1 999.32 1394.50)" fill="#5a5a5a" font-size="27.12" font-weight="bold" font-style="normal">sources</text>
<text transform="matrix(0.9742 0 0 1 1106.55 1394.50)" fill="#5a5a5a" font-size="27.12" font-weight="bold" font-style="normal">deemed</text>
<text transform="matrix(0.9742 0 0 1 1211.83 1394.50)" fill="#5a5a5a" font-size="27.12" font-weight="bold" font-style="normal">reasonably</text>
<text transform="matrix(0.9742 0 0 1 1358.19 1394.50)" fill="#5a5a5a" font-size="27.12" font-weight="bold" font-style="normal">reliable</text>
</svg>
</body></html>
